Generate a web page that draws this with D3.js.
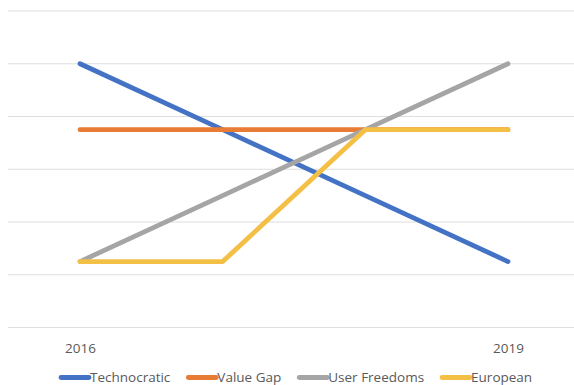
<!DOCTYPE html>
<html>
<head>
<meta charset="utf-8">
<script src="https://cdn.jsdelivr.net/npm/d3@7"></script>
<style>
  html, body { margin: 0; padding: 0; background: #fff; }
  svg { display: block; }
  text { font-family: "Open Sans", "Liberation Sans", sans-serif; }
</style>
</head>
<body>
<svg id="chart" width="574" height="385"></svg>
<script>
// ---- data ----
const categories = ["2016", "2017", "2018", "2019"];
const shownTickLabels = ["2016", "2019"];
const yTicks = [0, 1, 2, 3, 4, 5, 6];
const seriesNames = ["Technocratic", "Value Gap", "User Freedoms", "European"];
const technocratic = [5, 3.75, 2.5, 1.25];
const valueGap = [3.75, 3.75, 3.75, 3.75];
const userFreedoms = [1.25, 2.5, 3.75, 5];
const european = [1.25, 1.25, 3.75, 3.75];
const seriesColors = ["#4472C4", "#E97C35", "#A5A5A5", "#F4BF45"];

const seriesValues = [technocratic, valueGap, userFreedoms, european];

// ---- layout ----
const svg = d3.select("#chart");
const plot = { left: 8, right: 574, top: 11, bottom: 327.5 };

const x = d3.scalePoint().domain(categories).range([80, 508]);
const y = d3.scaleLinear().domain([0, 6]).range([plot.bottom, plot.top]);

// gridlines
svg.append("g").selectAll("line").data(yTicks).join("line")
  .attr("x1", plot.left).attr("x2", plot.right)
  .attr("y1", d => y(d)).attr("y2", d => y(d))
  .attr("stroke", "#DEDEDE").attr("stroke-width", 1.2);

// x axis labels
const xAxis = d3.axisBottom(x).tickSize(0).tickPadding(0)
  .tickFormat(d => shownTickLabels.includes(d) ? d : "");
const gx = svg.append("g").attr("transform", `translate(0,${plot.bottom + 25})`).call(xAxis);
gx.select(".domain").remove();
gx.selectAll("text").attr("font-size", 13.5).attr("fill", "#595959")
  .attr("dy", "0").attr("font-family", "Open Sans, sans-serif");

// lines
const line = d3.line().x((d, i) => x(categories[i])).y(d => y(d));
svg.append("g").selectAll("path").data(seriesValues).join("path")
  .attr("d", d => line(d))
  .attr("fill", "none")
  .attr("stroke", (d, i) => seriesColors[i])
  .attr("stroke-width", 4.8)
  .attr("stroke-linecap", "round")
  .attr("stroke-linejoin", "round");

// legend
const legend = svg.append("g").attr("transform", "translate(0,377.5)");
let cx = 61;
seriesNames.forEach((name, i) => {
  const g = legend.append("g").attr("transform", `translate(${cx},0)`);
  g.append("line").attr("x1", 0).attr("x2", 28).attr("y1", 0).attr("y2", 0)
    .attr("stroke", seriesColors[i]).attr("stroke-width", 4.8).attr("stroke-linecap", "round");
  const t = g.append("text").attr("x", 29).attr("y", 0).attr("dy", "0.35em")
    .attr("font-size", 13.5).attr("fill", "#595959").text(name);
  const w = t.node().getComputedTextLength();
  cx += 29 + w + 18;
});
</script>
</body>
</html>
